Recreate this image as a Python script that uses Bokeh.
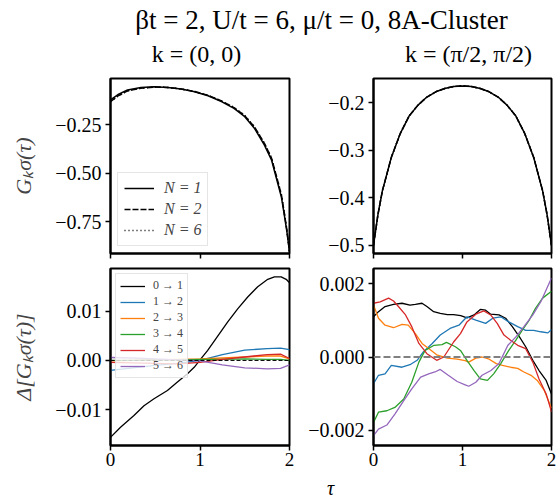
from bokeh.plotting import figure
from bokeh.layouts import column, row
from bokeh.models import (Range1d, FixedTicker, CustomJSTickFormatter, Legend,
                          LegendItem, Span, Label, CustomLabelingPolicy)
from bokeh.embed import file_html
from bokeh.resources import INLINE

FONT = "Liberation Serif"

# ---------------- data ----------------
# top-left: G_k(tau), k=(0,0)
tau_k0 = [0, 0.08, 0.19, 0.34, 0.49, 0.64, 0.79, 0.94, 1.09, 1.24, 1.38, 1.50,
          1.61, 1.72, 1.80, 1.87, 1.91, 1.94, 1.97, 2.0]
g_k0_n1 = [-0.122, -0.096, -0.071, -0.059, -0.055, -0.058, -0.066, -0.080, -0.101,
           -0.131, -0.166, -0.209, -0.270, -0.356, -0.434, -0.555, -0.625, -0.710,
           -0.800, -0.905]
g_k0_n2 = [-0.131, -0.103, -0.076, -0.062, -0.056, -0.058, -0.066, -0.079, -0.099,
           -0.128, -0.162, -0.204, -0.263, -0.347, -0.424, -0.543, -0.614, -0.700,
           -0.792, -0.905]
g_k0_n6 = [-0.132, -0.104, -0.076, -0.062, -0.056, -0.058, -0.066, -0.079, -0.099,
           -0.128, -0.161, -0.203, -0.262, -0.346, -0.423, -0.541, -0.612, -0.698,
           -0.790, -0.905]

# top-right: G_k(tau), k=(pi/2,pi/2)
tau_m = [0, 0.05, 0.1, 0.2, 0.3, 0.4, 0.5, 0.6, 0.7, 0.8, 0.9, 1.0, 1.1, 1.2,
         1.3, 1.4, 1.5, 1.6, 1.7, 1.8, 1.9, 1.95, 2.0]
g_m_n1 = [-0.500, -0.435, -0.385, -0.315, -0.265, -0.228, -0.205, -0.188, -0.177,
          -0.170, -0.166, -0.165, -0.166, -0.170, -0.177, -0.188, -0.205, -0.228,
          -0.265, -0.315, -0.385, -0.435, -0.500]
g_m_n2 = [-0.500, -0.435, -0.385, -0.315, -0.265, -0.228, -0.205, -0.188, -0.177,
          -0.170, -0.166, -0.164, -0.166, -0.170, -0.177, -0.188, -0.205, -0.228,
          -0.265, -0.315, -0.385, -0.435, -0.500]
g_m_n6 = [-0.500, -0.435, -0.385, -0.315, -0.265, -0.228, -0.205, -0.188, -0.177,
          -0.170, -0.166, -0.164, -0.166, -0.170, -0.177, -0.188, -0.205, -0.228,
          -0.265, -0.315, -0.385, -0.435, -0.500]

# bottom-left: Delta G, k=(0,0)
tau_d01 = [0, 0.112, 0.262, 0.374, 0.486, 0.636, 0.748, 0.86, 0.935, 1.009, 1.084,
           1.196, 1.308, 1.421, 1.533, 1.645, 1.757, 1.832, 1.907, 1.963, 2.0]
d01_k0 = [-0.01565, -0.0136, -0.0112, -0.0092, -0.0078, -0.0061, -0.0044, -0.0027,
          -0.0014, 0.0003, 0.0020, 0.0049, 0.0078, 0.0105, 0.0129, 0.0150, 0.0165,
          0.0170, 0.0170, 0.0165, 0.0158]
tau_small = [0, 0.25, 0.5, 0.75, 1.0, 1.25, 1.5, 1.75, 1.9, 2.0]
d12_k0 = [-0.0020, -0.0015, -0.0010, -0.0006, 0.0000, 0.0012, 0.0021, 0.0024, 0.0025, 0.0022]
d23_k0 = [-0.0001, 0.0000, 0.0001, 0.0002, 0.0003, 0.0005, 0.0007, 0.0009, 0.0009, 0.0003]
d34_k0 = [0.0000, 0.0000, 0.0001, 0.0001, 0.0002, 0.0002, 0.0003, 0.0002, 0.0002, 0.0000]
d45_k0 = [-0.0004, -0.0005, -0.0006, -0.0007, -0.0004, 0.0002, 0.0007, 0.0012, 0.0013, 0.0004]
d56_k0 = [0.0006, 0.0005, 0.0003, 0.0001, -0.0001, -0.0009, -0.0015, -0.0017, -0.0016, -0.0009]

# bottom-right: Delta G, k=(pi/2,pi/2)  (values in units of 1e-3)
tau_b01 = [0, 0.056, 0.13, 0.225, 0.32, 0.41, 0.47, 0.545, 0.60, 0.676, 0.75, 0.83,
           0.90, 0.98, 1.05, 1.13, 1.20, 1.26, 1.316, 1.41, 1.485, 1.56, 1.64, 1.71,
           1.79, 1.86, 1.94, 2.0]
b01 = [1.10, 1.24, 1.38, 1.44, 1.47, 1.42, 1.44, 1.47, 1.38, 1.24, 1.19, 1.16, 1.16,
       1.13, 1.07, 1.15, 1.30, 1.28, 1.17, 1.15, 1.06, 0.83, 0.55, 0.28, -0.09, -0.37,
       -0.64, -1.01]
tau_b12 = [0, 0.056, 0.13, 0.2, 0.32, 0.41, 0.49, 0.56, 0.66, 0.75, 0.86, 0.96, 1.05,
           1.15, 1.26, 1.34, 1.43, 1.52, 1.62, 1.71, 1.80, 1.88, 1.96, 2.0]
b12 = [-0.73, -0.50, -0.46, -0.23, -0.28, -0.21, -0.09, 0.14, 0.37, 0.60, 0.78, 0.87,
       1.10, 1.01, 0.92, 1.06, 1.10, 0.96, 0.83, 0.73, 0.73, 0.69, 0.66, 0.75]
tau_b23 = [0, 0.056, 0.13, 0.225, 0.32, 0.39, 0.47, 0.545, 0.62, 0.71, 0.83, 0.94,
           1.03, 1.07, 1.15, 1.22, 1.30, 1.38, 1.45, 1.54, 1.62, 1.69, 1.77, 1.84,
           1.92, 2.0]
b23 = [1.42, 1.06, 0.87, 0.80, 0.89, 0.87, 0.64, 0.37, 0.23, 0.06, -0.03, -0.06,
       -0.10, -0.14, -0.03, 0.0, -0.06, -0.18, -0.23, -0.28, -0.31, -0.41, -0.50,
       -0.64, -0.92, -1.40]
tau_b34 = [0, 0.056, 0.15, 0.24, 0.34, 0.43, 0.51, 0.58, 0.68, 0.77, 0.82, 0.92, 0.977,
           1.05, 1.13, 1.20, 1.28, 1.35, 1.43, 1.52, 1.60, 1.67, 1.75, 1.82, 1.90, 2.0]
b34 = [-1.79, -1.51, -1.47, -1.38, -1.15, -0.69, -0.14, 0.18, 0.32, 0.34, 0.40, 0.28,
       0.18, -0.09, -0.37, -0.60, -0.64, -0.46, -0.18, 0.18, 0.46, 0.73, 1.01, 1.33,
       1.61, 1.80]
tau_b45 = [0, 0.075, 0.17, 0.225, 0.28, 0.36, 0.43, 0.51, 0.60, 0.71, 0.79, 0.90, 0.977,
           1.05, 1.15, 1.24, 1.316, 1.39, 1.466, 1.54, 1.62, 1.71, 1.79, 1.86, 1.94, 2.0]
b45 = [1.47, 1.51, 1.61, 1.53, 1.38, 1.15, 0.83, 0.37, 0.09, -0.09, 0.0, 0.41, 0.64,
       0.96, 1.17, 1.26, 1.15, 0.92, 0.60, 0.46, 0.32, 0.23, -0.14, -0.60, -1.01, -1.50]
tau_b56 = [0, 0.056, 0.15, 0.24, 0.34, 0.43, 0.53, 0.62, 0.69, 0.75, 0.84, 0.94, 1.03,
           1.07, 1.15, 1.22, 1.32, 1.41, 1.51, 1.60, 1.69, 1.79, 1.88, 2.0]
b56 = [-2.15, -1.97, -1.86, -1.56, -1.19, -0.87, -0.55, -0.46, -0.41, -0.34, -0.50,
       -0.67, -0.76, -0.80, -0.69, -0.50, -0.37, -0.18, 0.32, 0.55, 0.83, 1.15, 1.51,
       2.16]

x_ticks = [0, 1, 2]
yt_tl = [-0.75, -0.5, -0.25]
yt_tr = [-0.5, -0.4, -0.3, -0.2]
yt_bl = [-0.01, 0.0, 0.01]
yt_br = [-0.002, 0.0, 0.002]

trans_labels = ["0 \u2192 1", "1 \u2192 2", "2 \u2192 3", "3 \u2192 4", "4 \u2192 5", "5 \u2192 6"]
trans_colors = ["black", "#1f77b4", "#ff7f0e", "#2ca02c", "#d62728", "#9467bd"]
n_labels = ["N = 1", "N = 2", "N = 6"]

TITLE = "\u03b2t = 2, U/t = 6, \u03bc/t = 0, 8A-Cluster"
SUB_L = "k = (0, 0)"
SUB_R = "k = (\u03c0/2, \u03c0/2)"
YLAB_TOP = "G\u2096\u03c3(\u03c4)"
YLAB_BOT = "\u0394[G\u2096\u03c3(\u03c4)]"
XLAB = "\u03c4"

# ---------------- layout constants ----------------
W = 557
WL, WR = 300, 257
H_HEAD, H_TOP, H_BOT, H_FOOT = 70, 193, 211, 23

NO_LABELS = CustomLabelingPolicy(code="for (const i of indices) { indices.unset(i) } return indices;")


def panel(width, height, bl, br, bt, bb, yr, yticks, dec, show_xlabels, ylabel=None):
    p = figure(width=width, height=height, x_range=Range1d(0, 2), y_range=Range1d(*yr),
               output_backend="svg", toolbar_location=None,
               min_border_left=bl, min_border_right=br, min_border_top=bt,
               min_border_bottom=bb, background_fill_color="white",
               border_fill_color="white")
    p.outline_line_color = "black"
    p.outline_line_width = 2
    p.xgrid.visible = False
    p.ygrid.visible = False
    for ax in (p.xaxis[0], p.yaxis[0]):
        ax.axis_line_width = 2
        ax.axis_line_color = "black"
        ax.major_tick_line_width = 1.5
        ax.major_tick_out = 5
        ax.major_tick_in = 0
        ax.minor_tick_line_color = None
        ax.major_label_text_font = FONT
        ax.major_label_text_font_size = "19px"
        ax.major_label_text_color = "black"
        ax.major_label_standoff = 4
    p.yaxis[0].major_label_text_font_size = "20px"
    p.xaxis[0].ticker = FixedTicker(ticks=x_ticks)
    p.xaxis[0].formatter = CustomJSTickFormatter(code="return tick.toFixed(0);")
    p.xaxis[0].major_label_standoff = 2
    if not show_xlabels:
        p.xaxis[0].major_label_policy = NO_LABELS
        p.xaxis[0].major_label_text_font_size = "0px"
        p.xaxis[0].major_label_standoff = 0
    p.yaxis[0].ticker = FixedTicker(ticks=yticks)
    p.yaxis[0].formatter = CustomJSTickFormatter(
        args=dict(d=dec), code="return tick.toFixed(d).replace('-', '\\u2212');")
    if ylabel:
        p.yaxis[0].axis_label = ylabel
        p.yaxis[0].axis_label_text_font = FONT
        p.yaxis[0].axis_label_text_font_size = "22px"
        p.yaxis[0].axis_label_text_font_style = "italic"
        p.yaxis[0].axis_label_standoff = 16
    return p


def strip(height):
    s = figure(width=W, height=height, x_range=Range1d(0, W), y_range=Range1d(0, height),
               output_backend="svg", toolbar_location=None,
               x_axis_location=None, y_axis_location=None, min_border=0,
               min_border_left=0, min_border_right=0, min_border_top=0,
               min_border_bottom=0)
    s.outline_line_color = None
    s.xgrid.visible = False
    s.ygrid.visible = False
    return s


tl = panel(WL, H_TOP, 110, 11, 8, 10, (-0.915, -0.012), yt_tl, 2, False, ylabel=YLAB_TOP)
tr = panel(WR, H_TOP, 73, 6, 8, 10, (-0.517, -0.149), yt_tr, 1, False)
bl = panel(WL, H_BOT, 110, 11, 5, 29, (-0.0173, 0.0187), yt_bl, 2, True, ylabel=YLAB_BOT)
br = panel(WR, H_BOT, 73, 6, 5, 29, (-0.00242, 0.00242), yt_br, 3, True)

# top-left
dashes = ["solid", "6 2", "1 3"]
rs = []
for ys, dsh in zip([g_k0_n1, g_k0_n2, g_k0_n6], dashes):
    rs.append(tl.line(tau_k0, ys, line_color="black", line_width=1.5, line_dash=dsh))
leg = Legend(items=[LegendItem(label=l, renderers=[r]) for l, r in zip(n_labels, rs)],
             location="bottom_left")
leg.label_text_font = FONT
leg.label_text_font_size = "16px"
leg.label_text_font_style = "italic"
leg.glyph_width = 30
leg.glyph_height = 18
leg.label_height = 18
leg.label_standoff = 10
leg.spacing = 3
leg.padding = 6
leg.margin = 7
leg.border_line_color = "#cccccc"
leg.border_line_width = 1
leg.background_fill_alpha = 0.8
tl.add_layout(leg)

# top-right
for ys, dsh in zip([g_m_n1, g_m_n2, g_m_n6], dashes):
    tr.line(tau_m, ys, line_color="black", line_width=1.5, line_dash=dsh)

# bottom-left
bl.add_layout(Span(location=0, dimension="width", line_color="black",
                   line_width=1, line_dash="4 2"))
rb = [bl.line(tau_d01, d01_k0, line_color=trans_colors[0], line_width=1.3)]
for ys, c in zip([d12_k0, d23_k0, d34_k0, d45_k0, d56_k0], trans_colors[1:]):
    rb.append(bl.line(tau_small, ys, line_color=c, line_width=1.3))
leg2 = Legend(items=[LegendItem(label=l, renderers=[r]) for l, r in zip(trans_labels, rb)],
              location="top_left")
leg2.label_text_font = FONT
leg2.label_text_font_size = "12px"
leg2.glyph_width = 25
leg2.glyph_height = 12
leg2.label_height = 12
leg2.label_standoff = 8
leg2.spacing = 1
leg2.padding = 4
leg2.margin = 5
leg2.border_line_color = "#cccccc"
leg2.border_line_width = 1
leg2.background_fill_alpha = 0.8
bl.add_layout(leg2)

# bottom-right (values given in 1e-3)
br.add_layout(Span(location=0, dimension="width", line_color="#808080",
                   line_width=2, line_dash="7 3"))
for ts, ys, c in zip([tau_b01, tau_b12, tau_b23, tau_b34, tau_b45, tau_b56],
                     [b01, b12, b23, b34, b45, b56], trans_colors):
    br.line(ts, [v * 1e-3 for v in ys], line_color=c, line_width=1.3)

# header: figure title and panel titles
head = strip(H_HEAD)
head.add_layout(Label(x=321, y=51, text=TITLE, text_font=FONT, text_font_size="27px",
                      text_align="center", text_baseline="middle", text_color="black"))
head.add_layout(Label(x=196, y=17, text=SUB_L, text_font=FONT, text_font_size="24px",
                      text_align="center", text_baseline="middle", text_color="black"))
head.add_layout(Label(x=468, y=17, text=SUB_R, text_font=FONT, text_font_size="24px",
                      text_align="center", text_baseline="middle", text_color="black"))

# footer: shared x-axis label
foot = strip(H_FOOT)
foot.add_layout(Label(x=330, y=10, text=XLAB, text_font=FONT, text_font_size="20px",
                      text_font_style="italic", text_align="center",
                      text_baseline="middle", text_color="black"))

layout = column(head, row(tl, tr, spacing=0), row(bl, br, spacing=0), foot, spacing=0)

open("out.html", "w").write(file_html(layout, INLINE))
